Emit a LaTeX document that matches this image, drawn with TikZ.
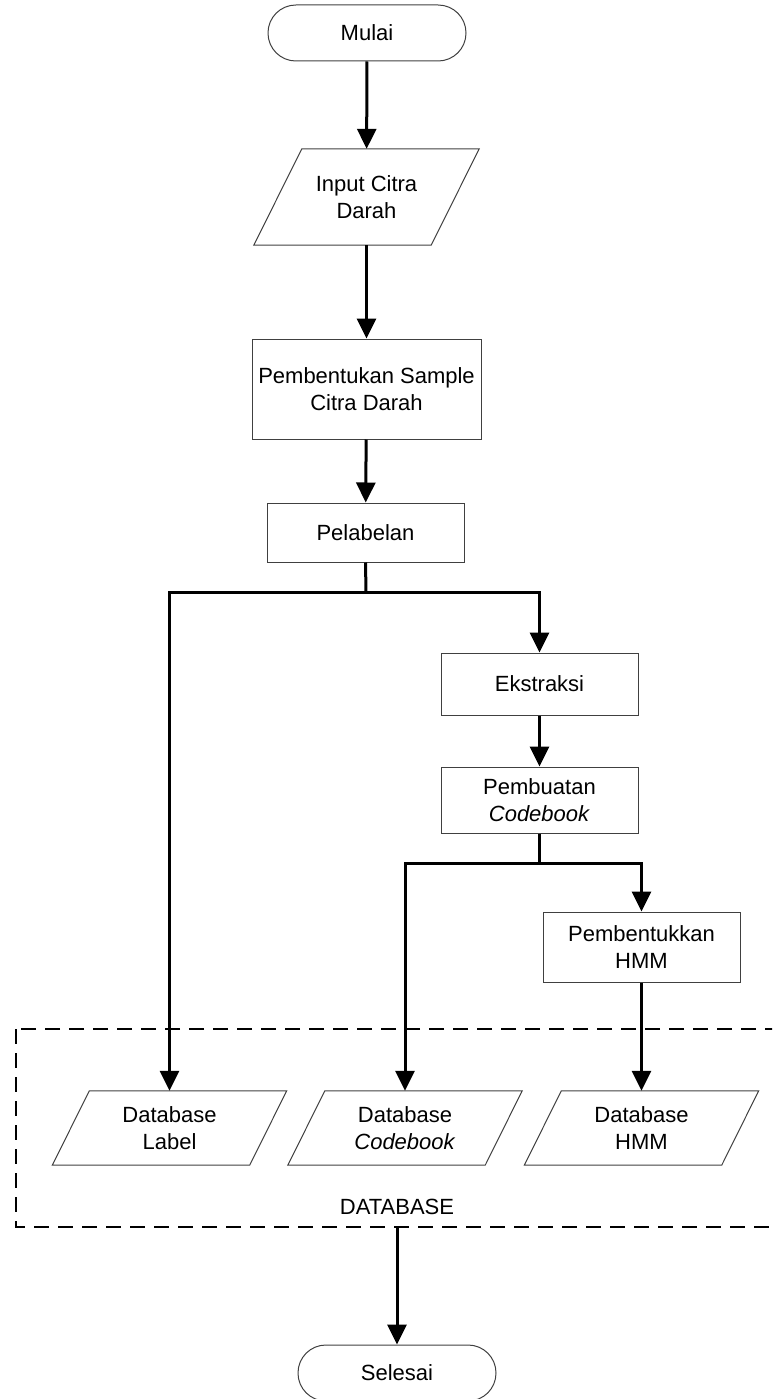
\documentclass[tikz,border=0pt]{standalone}
\usepackage{fontspec}
\setmainfont{Liberation Sans}
\usetikzlibrary{arrows.meta,calc}
\tikzset{
  txt/.style={font=\fontsize{22}{26.5}\selectfont, align=center, inner sep=0pt},
  procbox/.style={txt, draw=black!75, line width=1pt, rectangle},
  termbox/.style={txt, draw=black!75, line width=1pt, rectangle, minimum width=198pt, minimum height=56pt, rounded corners=27.9pt},
  iobox/.style={txt, rectangle},
  boxline/.style={draw=black!75, line width=1pt},
  conn/.style={line width=3pt, draw=black},
  arr/.style={conn, -{Triangle[length=20pt,width=19pt]}},
  dbframe/.style={draw=black, line width=1.6pt, dash pattern=on 15pt off 9pt}
}
\newcommand\drawpara[2]{\draw[boxline] ($(#1.north west)+(#2,0)$) -- ($(#1.north east)+(#2,0)$) -- ($(#1.south east)-(#2,0)$) -- ($(#1.south west)-(#2,0)$) -- cycle;}
\begin{document}
\begin{tikzpicture}[x=1pt,y=-1pt]
\useasboundingbox (0,0) rectangle (772,1399);
\clip (0,0) rectangle (772,1399);

% terminals
\node[termbox] (mulai) at (367,33) {Mulai};
\node[termbox] (selesai) at (397,1373) {Selesai};

% input
\node[iobox, minimum width=177pt, minimum height=96pt] (input) at (366.5,197) {Input Citra\\Darah};
\drawpara{input}{24}

% process boxes
\node[procbox, minimum width=229pt, minimum height=100pt] (sample) at (366.5,389) {Pembentukan Sample\\Citra Darah};
\node[procbox, minimum width=197pt, minimum height=59pt] (label) at (365.5,532.5) {Pelabelan};
\node[procbox, minimum width=197pt, minimum height=62pt] (ekstraksi) at (539.5,684) {Ekstraksi};
\node[procbox, minimum width=197pt, minimum height=66pt] (codebook) at (539.5,800) {Pembuatan\\\textit{Codebook}};
\node[procbox, minimum width=197pt, minimum height=70pt] (hmm) at (641.5,947) {Pembentukkan\\HMM};

% database frame
\draw[dbframe] (16,1029) rectangle (800,1227);
\node[txt] (dbtitle) at (397,1207) {DATABASE};
\coordinate (dbout) at (397,1227);

% databases
\node[iobox, minimum width=197pt, minimum height=74pt] (dblabel) at (169.5,1128) {Database\\Label};
\drawpara{dblabel}{18.5}
\node[iobox, minimum width=197pt, minimum height=74pt] (dbcode) at (405,1128) {Database\\\textit{Codebook}};
\drawpara{dbcode}{18.5}
\node[iobox, minimum width=197pt, minimum height=74pt] (dbhmm) at (641.5,1128) {Database\\HMM};
\drawpara{dbhmm}{18.5}

% junctions
\coordinate (j1) at (366,592);
\coordinate (j2) at (539.5,863);

% connectors
\draw[arr] (mulai) -- (input);
\draw[arr] (input.south) -- (sample.north);
\draw[arr] (sample) -- (label);
\draw[conn] (label.south) -- (j1);
\draw[arr] (j1) -| (dblabel.north);
\draw[arr] (j1) -| (ekstraksi.north);
\draw[arr] (ekstraksi) -- (codebook);
\draw[conn] (codebook.south) -- (j2);
\draw[arr] (j2) -| (dbcode.north);
\draw[arr] (j2) -| (hmm.north);
\draw[arr] (hmm.south) -- (dbhmm.north);
\draw[arr] (dbout) -- (selesai.north);
\end{tikzpicture}
\end{document}
